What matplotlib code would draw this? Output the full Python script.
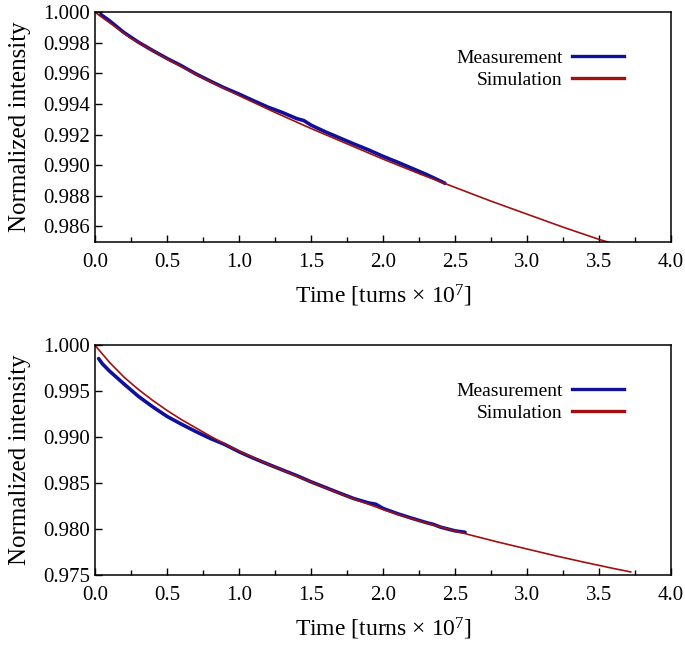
import numpy as np
import matplotlib
matplotlib.use('Agg')
import matplotlib.pyplot as plt
from matplotlib.ticker import MultipleLocator
from matplotlib.lines import Line2D

plt.rcParams['font.family'] = ['Liberation Serif', 'DejaVu Serif']
plt.rcParams['mathtext.fontset'] = 'custom'
plt.rcParams['mathtext.rm'] = 'Liberation Serif'
plt.rcParams['mathtext.it'] = 'Liberation Serif:italic'

# top panel: simulation (red) and measurement (blue), time in 1e7 turns
sim_top_t = [0.0, 0.25, 0.5, 0.75, 1.0, 1.25, 1.5, 1.75, 2.0, 2.25, 2.5, 2.75,
             3.0, 3.25, 3.5, 3.57]
sim_top_v = [1.0, 0.99830, 0.99695, 0.99570, 0.99455, 0.99345, 0.99240, 0.99140,
             0.99040, 0.98945, 0.98855, 0.98765, 0.98680, 0.98595, 0.98515, 0.98495]

meas_top_t = [0.04, 0.1, 0.2, 0.3, 0.4, 0.5, 0.6, 0.7, 0.8, 0.9, 1.0, 1.1, 1.2,
              1.3, 1.4, 1.45, 1.5, 1.6, 1.7, 1.8, 1.9, 2.0, 2.1, 2.2, 2.3, 2.35, 2.43]
meas_top_v = [0.99985, 0.99945, 0.99868, 0.99805, 0.99750, 0.99698, 0.99650,
              0.99597, 0.99550, 0.99505, 0.99465, 0.99422, 0.99380, 0.99345,
              0.99305, 0.99292, 0.99262, 0.99218, 0.99178, 0.99138, 0.99100,
              0.99058, 0.99020, 0.98980, 0.98940, 0.98918, 0.98882]

# bottom panel
sim_bot_t = [0.0, 0.1, 0.2, 0.3, 0.4, 0.5, 0.6, 0.7, 0.8, 0.9, 1.0, 1.2, 1.4,
             1.6, 1.8, 2.0, 2.2, 2.4, 2.6, 2.8, 3.0, 3.2, 3.4, 3.6, 3.72]
sim_bot_v = [1.0, 0.99815, 0.99655, 0.99520, 0.99400, 0.99290, 0.99190, 0.99100,
             0.99010, 0.98925, 0.98845, 0.98705, 0.98575, 0.98445, 0.98325,
             0.98210, 0.98110, 0.98020, 0.97935, 0.97855, 0.97780, 0.97705,
             0.97635, 0.97568, 0.97530]

meas_bot_t = [0.025, 0.05, 0.1, 0.2, 0.3, 0.4, 0.5, 0.6, 0.7, 0.8, 0.9, 1.0,
              1.1, 1.2, 1.3, 1.4, 1.5, 1.6, 1.7, 1.8, 1.9, 1.95, 2.0, 2.1, 2.2,
              2.3, 2.35, 2.4, 2.5, 2.57]
meas_bot_v = [0.99855, 0.99800, 0.99720, 0.99580, 0.99445, 0.99330, 0.99225,
              0.99140, 0.99060, 0.98985, 0.98920, 0.98840, 0.98770, 0.98705,
              0.98642, 0.98580, 0.98512, 0.98450, 0.98388, 0.98328, 0.98282,
              0.98268, 0.98222, 0.98165, 0.98115, 0.98068, 0.98048, 0.98018,
              0.97978, 0.97962]

BLUE = '#10109a'
RED = '#a01010'

fig = plt.figure(figsize=(6.85, 6.45), dpi=100)
ax1 = fig.add_axes([0.1387, 0.6253, 0.8409, 0.3557])
ax2 = fig.add_axes([0.1387, 0.1090, 0.8409, 0.3557])


def style(ax, ymin, ymax, ystep):
    ax.set_xlim(0, 4.0)
    ax.set_ylim(ymin, ymax)
    ax.xaxis.set_major_locator(MultipleLocator(0.5))
    ax.xaxis.set_minor_locator(MultipleLocator(0.25))
    ax.yaxis.set_major_locator(MultipleLocator(ystep))
    ax.xaxis.set_major_formatter(plt.FormatStrFormatter('%.1f'))
    ax.yaxis.set_major_formatter(plt.FormatStrFormatter('%.3f'))
    ax.tick_params(which='both', direction='in', top=False, right=False,
                   labelsize=15, width=1.0)
    ax.tick_params(which='major', length=5)
    ax.tick_params(which='minor', length=3.5)
    ax.tick_params(axis='x', pad=8)
    for s in ax.spines.values():
        s.set_linewidth(1.1)
    ax.set_xlabel(r'Time [turns $\times$ 10$^{7}$]', fontsize=17, labelpad=8)
    ax.set_ylabel('Normalized intensity', fontsize=18, labelpad=9)
    handles = [Line2D([], [], color=BLUE, lw=2.4),
               Line2D([], [], color=RED, lw=2.4)]
    ax.legend(handles, ['Measurement', 'Simulation'], loc='upper right',
              bbox_to_anchor=(0.932, 0.872), frameon=False, markerfirst=False,
              fontsize=14, handlelength=2.7, handletextpad=0.45,
              labelspacing=0.2, borderaxespad=0)


ax1.plot(meas_top_t, meas_top_v, color=BLUE, lw=2.6, solid_capstyle='round')
ax1.plot(sim_top_t, sim_top_v, color=RED, lw=1.2)
style(ax1, 0.985, 1.0, 0.002)

ax2.plot(meas_bot_t, meas_bot_v, color=BLUE, lw=2.6, solid_capstyle='round')
ax2.plot(sim_bot_t, sim_bot_v, color=RED, lw=1.2)
style(ax2, 0.975, 1.0, 0.005)

fig.savefig('out.png', dpi=100)
